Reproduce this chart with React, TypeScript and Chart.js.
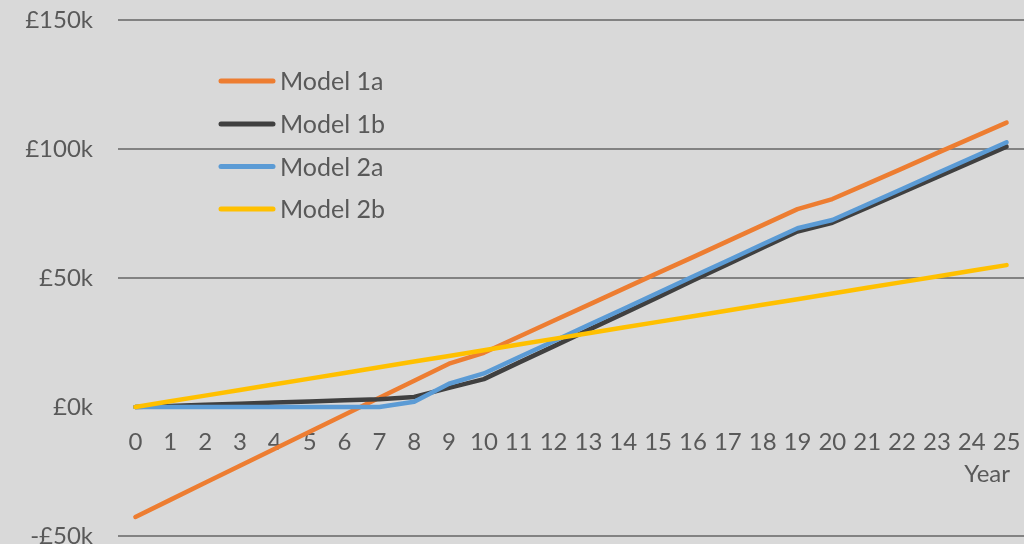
import React, { useEffect, useRef } from "react";
import { Chart, registerables } from "chart.js";

Chart.register(...registerables);

const years = ["0","1","2","3","4","5","6","7","8","9","10","11","12","13","14","15","16","17","18","19","20","21","22","23","24","25"];
const seriesNames = ["Model 1a", "Model 1b", "Model 2a", "Model 2b"];
const model1a = [-42.6, -36.0, -29.4, -22.8, -16.2, -9.6, -3.0, 3.6, 10.2, 16.8, 21.0, 27.2, 33.4, 39.6, 45.8, 52.0, 58.1, 64.3, 70.5, 76.7, 80.6, 86.5, 92.4, 98.4, 104.3, 110.2];
const model1b = [0, 0.4, 0.9, 1.3, 1.7, 2.1, 2.6, 3.0, 3.9, 7.4, 10.8, 17.2, 23.5, 29.9, 36.2, 42.6, 49.0, 55.3, 61.7, 68.0, 71.4, 77.3, 83.2, 89.1, 95.0, 100.9];
const model2a = [0, 0, 0, 0, 0, 0, 0, 0, 2.0, 9.0, 13.0, 19.3, 25.5, 31.8, 38.0, 44.3, 50.6, 56.8, 63.1, 69.3, 72.5, 78.5, 84.5, 90.6, 96.6, 102.6];
const model2b = [0, 2.2, 4.4, 6.6, 8.8, 11, 13.2, 15.4, 17.6, 19.8, 22, 24.2, 26.4, 28.6, 30.8, 33, 35.2, 37.4, 39.6, 41.8, 44, 46.2, 48.4, 50.6, 52.8, 55];
const yTicks = [-50, 0, 50, 100, 150];
const xTitle = "Year";

const colors = ["#ED7D31", "#404040", "#5B9BD5", "#FFC000"];
const FONT = "Lato, 'Open Sans', sans-serif";
const TEXT = "#595959";
const BG = "#D9D9D9";

export default function App() {
  const ref = useRef<HTMLCanvasElement>(null);
  useEffect(() => {
    document.body.style.margin = "0";
    document.body.style.background = BG;
    const canvas = ref.current!;
    const bgPlugin = {
      id: "bg",
      beforeDraw(chart: any) {
        const c = chart.ctx;
        c.save();
        c.fillStyle = BG;
        c.fillRect(0, 0, chart.width, chart.height);
        c.restore();
      },
    };
    const extrasPlugin = {
      id: "extras",
      afterDraw(chart: any) {
        const c = chart.ctx;
        c.save();
        // legend
        const ys = [81, 124, 166.5, 209];
        chart.data.datasets.forEach((ds: any, i: number) => {
          c.strokeStyle = ds.borderColor;
          c.lineWidth = 5;
          c.lineCap = "round";
          c.beginPath();
          c.moveTo(221, ys[i]);
          c.lineTo(273, ys[i]);
          c.stroke();
          c.fillStyle = TEXT;
          c.font = `25px ${FONT}`;
          c.textAlign = "left";
          c.textBaseline = "middle";
          c.fillText(ds.label, 280, ys[i] + 1);
        });
        // axis title
        c.fillStyle = TEXT;
        c.font = `24px ${FONT}`;
        c.textAlign = "right";
        c.textBaseline = "middle";
        c.fillText(xTitle, 1010, 474);
        c.restore();
      },
    };
    const chart = new Chart(canvas, {
      type: "line",
      data: {
        labels: years,
        datasets: [model1a, model1b, model2a, model2b].map((d, i) => ({
          label: seriesNames[i],
          data: d,
          borderColor: colors[i],
          backgroundColor: colors[i],
          borderWidth: 4.5,
          borderCapStyle: "round" as const,
          borderJoinStyle: "round" as const,
          pointRadius: 0,
          tension: 0,
          order: 4 - i,
        })),
      },
      options: {
        animation: false,
        responsive: false,
        maintainAspectRatio: false,
        layout: { padding: { top: 20, bottom: 8, left: 0, right: 0 } },
        plugins: { legend: { display: false }, tooltip: { enabled: false } },
        scales: {
          x: {
            type: "category",
            offset: true,
            position: { y: 0 } as any,
            grid: { display: false, drawTicks: false },
            border: { display: false },
            ticks: {
              color: TEXT,
              font: { family: FONT, size: 24 },
              padding: 21,
              maxRotation: 0,
              autoSkip: false,
            },
            afterFit(scale: any) {
              scale.paddingLeft = 0;
              scale.paddingRight = 0;
            },
          },
          y: {
            type: "linear",
            min: -50,
            max: 150,
            afterBuildTicks(scale: any) {
              scale.ticks = yTicks.map((v) => ({ value: v }));
            },
            grid: {
              drawTicks: false,
              color: (ctx: any) => (ctx.tick && ctx.tick.value === 0 ? "rgba(0,0,0,0)" : "#828282"),
              lineWidth: 2,
            },
            border: { display: false },
            ticks: {
              color: TEXT,
              font: { family: FONT, size: 24 },
              padding: 25,
              callback: (v: any) => (v < 0 ? "-" : "") + "£" + Math.abs(v) + "k",
            },
            afterFit(scale: any) {
              scale.width = 118;
              scale.paddingTop = 0;
              scale.paddingBottom = 0;
            },
          },
        },
      },
      plugins: [bgPlugin, extrasPlugin],
    });
    return () => chart.destroy();
  }, []);
  return (
    <div style={{ width: 1024, height: 544, background: BG }}>
      <canvas ref={ref} width={1024} height={544} style={{ display: "block" }} />
    </div>
  );
}
